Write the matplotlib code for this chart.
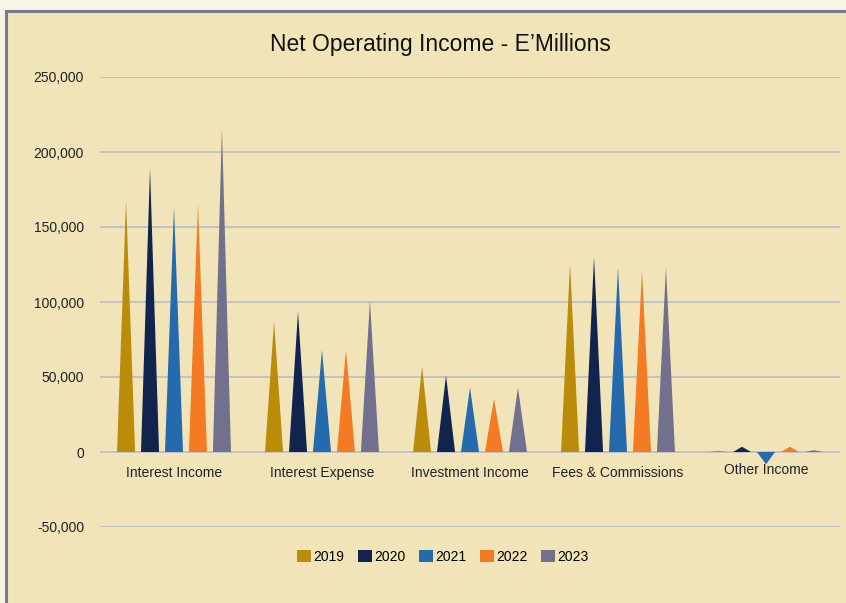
import numpy as np
import matplotlib.pyplot as plt
from matplotlib.patches import Rectangle, Polygon

# categories and yearly values (E'Millions)
categories = ["Interest Income", "Interest Expense", "Investment Income",
              "Fees & Commissions", "Other Income"]
years = ["2019", "2020", "2021", "2022", "2023"]
v2019 = [168000, 87000, 57000, 126000, 800]
v2020 = [189000, 93500, 51000, 130000, 3500]
v2021 = [163000, 68000, 43000, 123000, -8200]
v2022 = [165500, 68000, 35500, 121000, 3500]
v2023 = [216000, 101000, 43000, 123000, 1200]
series = [v2019, v2020, v2021, v2022, v2023]
colors = ["#BA8C0A", "#10244E", "#246AAC", "#F57A24", "#72708C"]

plt.rcParams['font.family'] = ['Liberation Sans', 'DejaVu Sans']

fig = plt.figure(figsize=(8.46, 6.03), dpi=100)
fig.patch.set_facecolor("#F8F4E6")

# beige panel with a grey edge on the left and top
panel = Rectangle((6 / 846, -0.05), 1.1, 1 - 11 / 603 + 0.05,
                  transform=fig.transFigure, facecolor="#F0E4B8",
                  edgecolor="#7B7A8E", linewidth=2.2, zorder=-10)
fig.patches.append(panel)

ax = fig.add_axes([100 / 846, 1 - 527 / 603, 740 / 846, 450 / 603])
ax.set_facecolor("none")
ax.set_xlim(-0.5, len(categories) - 0.5)
ax.set_ylim(-50000, 250000)

yticks = np.arange(-50000, 250001, 50000)
ax.set_yticks(yticks)
ax.set_yticklabels([f"{t:,}" for t in yticks], fontsize=10, color="#222222")
ax.tick_params(axis="y", length=0, pad=11.5)
ax.set_xticks([])
for t in yticks:
    ax.axhline(t, color="#C2C2C8", linewidth=1.4, zorder=1)
for s in ax.spines.values():
    s.set_visible(False)

step = 0.162
half = 0.061
x = np.arange(len(categories))
for k, (vals, col) in enumerate(zip(series, colors)):
    off = (k - 2) * step
    for xi, v in zip(x, vals):
        tri = Polygon([(xi + off - half, 0), (xi + off + half, 0), (xi + off, v)],
                      closed=True, facecolor=col, edgecolor="none", zorder=3)
        ax.add_patch(tri)

for xi, name in zip(x, categories):
    dy = -13 if name == "Other Income" else -15
    ax.annotate(name, (xi, 0), xytext=(0, dy), textcoords="offset points",
                ha="center", va="center", fontsize=10, color="#222222")

fig.text(440 / 846, 1 - 45 / 603, "Net Operating Income - E\u2019Millions",
         ha="center", va="center", fontsize=16.5, color="#111111")

handles = [Rectangle((0, 0), 1, 1, facecolor=c) for c in colors]
fig.legend(handles, years, loc="center", bbox_to_anchor=(443 / 846, 1 - 557 / 603),
           ncol=5, frameon=False, fontsize=10, handlelength=1.0, handleheight=1.0,
           handletextpad=0.15, columnspacing=1.0)

fig.savefig("out.png", dpi=100, facecolor=fig.get_facecolor())
